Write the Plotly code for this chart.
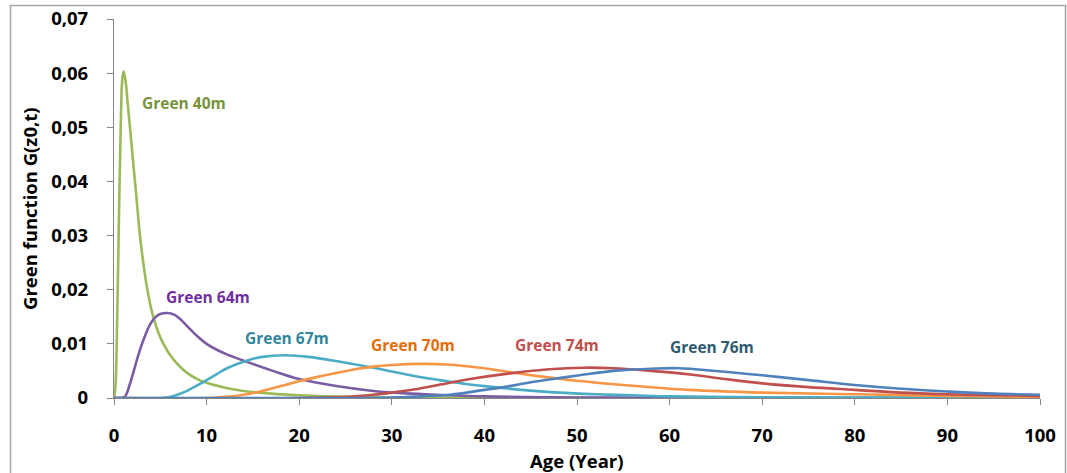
import plotly.graph_objects as go

# ---------------- data ----------------
g40_x = [0, 0.15, 0.35, 0.55, 0.75, 0.9, 1.05, 1.25, 1.5, 1.75, 2.0, 2.4, 2.8, 3.2, 3.6, 4.0, 4.5, 5.0, 5.5, 6.0, 7.0, 8, 9, 10, 12, 14, 17, 20, 25, 30, 40, 60, 100]
g40_y = [0, 0.002, 0.015, 0.035, 0.052, 0.059, 0.0603, 0.0585, 0.054, 0.0495, 0.0448, 0.0375, 0.0300, 0.0245, 0.0200, 0.0166, 0.0135, 0.0112, 0.0095, 0.0081, 0.0060, 0.0045, 0.0035, 0.0028, 0.0019, 0.0013, 0.0008, 0.0005, 0.0002, 0.0001, 0.00002, 0, 0]

g64_x = [0, 0.8, 1.2, 1.7, 2.3, 2.8, 3.4, 3.9, 4.4, 5.0, 5.8, 6.5, 7.2, 8.0, 9.0, 10, 11, 12, 14, 17, 20, 24, 28, 32, 36, 40, 50, 60, 100]
g64_y = [0, 0, 0.0003, 0.0025, 0.0060, 0.0089, 0.0117, 0.0136, 0.0148, 0.0155, 0.0157, 0.0154, 0.0145, 0.0131, 0.0114, 0.0100, 0.0090, 0.0082, 0.0069, 0.0051, 0.0035, 0.0022, 0.0013, 0.0008, 0.0005, 0.0003, 0.0001, 0.00003, 0]

g67_x = [0, 5, 6, 7, 8, 9.7, 11, 12.2, 14.3, 16, 18.5, 21, 24.4, 28, 30, 32, 34, 36, 38, 40, 44, 48, 52, 56, 60, 70, 80, 100]
g67_y = [0, 0, 0.0002, 0.0007, 0.0014, 0.0030, 0.0043, 0.0055, 0.0069, 0.0076, 0.0079, 0.0076, 0.0067, 0.0056, 0.0049, 0.0042, 0.0036, 0.0031, 0.0026, 0.0022, 0.0015, 0.0010, 0.0007, 0.0005, 0.0003, 0.00015, 0.00008, 0.00002]

g70_x = [0, 10, 12, 14, 16, 18, 20, 22, 24, 26, 28, 30, 33, 36, 40, 43, 46, 50, 55, 62, 70, 80, 90, 100]
g70_y = [0, 0, 0.0002, 0.0006, 0.0013, 0.0022, 0.0031, 0.0039, 0.0046, 0.0053, 0.0058, 0.0061, 0.0063, 0.0062, 0.0055, 0.0047, 0.0040, 0.0032, 0.0024, 0.0015, 0.0010, 0.0007, 0.0004, 0.0002]

g74_x = [0, 20, 25, 28, 30, 32.5, 35, 38.8, 43, 47, 50.7, 54, 58, 62, 66, 70, 75, 80, 85, 90, 95, 100]
g74_y = [0, 0, 0.0002, 0.0006, 0.0010, 0.0016, 0.0024, 0.0036, 0.0046, 0.0053, 0.0056, 0.0055, 0.0050, 0.0044, 0.0035, 0.0027, 0.0020, 0.0015, 0.0010, 0.0007, 0.0005, 0.0004]

g76_x = [0, 25, 30, 33, 36.3, 40, 42.4, 45, 47.8, 51, 54.6, 58, 61, 65, 70, 75, 80, 85, 90, 95, 100]
g76_y = [0, 0, 0.0001, 0.0003, 0.0006, 0.0015, 0.0021, 0.0029, 0.0036, 0.0044, 0.0051, 0.0054, 0.0055, 0.0050, 0.0042, 0.0033, 0.0024, 0.0017, 0.0012, 0.0008, 0.0006]

series_names = ["Green 40m", "Green 64m", "Green 67m", "Green 70m", "Green 74m", "Green 76m"]
series_x = [g40_x, g64_x, g67_x, g70_x, g74_x, g76_x]
series_y = [g40_y, g64_y, g67_y, g70_y, g74_y, g76_y]
line_colors = ["#9BBB59", "#7B5CA3", "#4BACC6", "#F79646", "#C0504D", "#4F81BD"]
label_colors = ["#77933C", "#7030A0", "#31859C", "#E46C0A", "#C0504D", "#2F5B70"]
label_x = [7.6, 10.2, 18.7, 32.3, 47.8, 64.6]
label_y = [0.0545, 0.0187, 0.0111, 0.0098, 0.0098, 0.0094]

x_ticks = [0, 10, 20, 30, 40, 50, 60, 70, 80, 90, 100]
y_ticks = [0, 0.01, 0.02, 0.03, 0.04, 0.05, 0.06, 0.07]
y_tick_text = ["0", "0,01", "0,02", "0,03", "0,04", "0,05", "0,06", "0,07"]

x_title = "Age (Year)"
y_title = "Green function G(z0,t)"

FONT = "Open Sans"
AXIS_GRAY = "#868686"

FW, FH = 1067, 473
# plot-area geometry in pixels
L, R, T, B = 114, 1040, 19, 398
PW, PH = R - L, B - T

fig = go.Figure()
for name, xs, ys, col in zip(series_names, series_x, series_y, line_colors):
    fig.add_trace(go.Scatter(x=xs, y=ys, mode="lines", name=name,
                             line=dict(color=col, width=2.6, shape="spline", smoothing=1.0),
                             showlegend=False, hoverinfo="skip"))

for name, lx, ly, col in zip(series_names, label_x, label_y, label_colors):
    fig.add_annotation(x=lx, y=ly, text="<b>%s</b>" % name, showarrow=False,
                       xanchor="center", yanchor="middle",
                       font=dict(family=FONT, size=15.5, color=col))

fig.add_annotation(xref="paper", yref="paper", x=(577 - L) / PW, y=(B - 460) / PH,
                   xanchor="center", yanchor="middle",
                   text="<b>%s</b>" % x_title, showarrow=False,
                   font=dict(family=FONT, size=18.5, color="black"))
fig.add_annotation(xref="paper", yref="paper", x=(29 - L) / PW, y=(B - 209) / PH,
                   xanchor="center", yanchor="middle",
                   text="<b>%s</b>" % y_title, showarrow=False, textangle=-90,
                   font=dict(family=FONT, size=18.5, color="black"))

# outer chart frame
fig.add_shape(type="rect", xref="paper", yref="paper",
              x0=(10.5 - L) / PW, x1=(1065.5 - L) / PW,
              y0=(B - 490) / PH, y1=(B - 5.5) / PH,
              line=dict(color="#A6A6A6", width=1.5), fillcolor="rgba(0,0,0,0)", layer="below")

fig.update_xaxes(range=[0, 100], tickvals=x_ticks, ticktext=[str(v) for v in x_ticks],
                 showline=True, linecolor=AXIS_GRAY, linewidth=1.2, automargin=False,
                 ticks="outside", ticklen=6, tickcolor=AXIS_GRAY, tickwidth=1.2,
                 showgrid=False, zeroline=False, ticklabelstandoff=15,
                 ticklabeloverflow="allow",
                 tickfont=dict(family=FONT, size=18.5, color="black", weight="bold"))
fig.update_yaxes(range=[0, 0.07], tickvals=y_ticks, ticktext=y_tick_text,
                 showline=True, linecolor=AXIS_GRAY, linewidth=1.2, automargin=False,
                 ticks="outside", ticklen=6, tickcolor=AXIS_GRAY, tickwidth=1.2,
                 showgrid=False, zeroline=False, ticklabelstandoff=15,
                 ticklabeloverflow="allow",
                 tickfont=dict(family=FONT, size=18.5, color="black", weight="bold"))

fig.update_layout(width=FW, height=FH, autosize=False,
                  margin=dict(l=L, r=FW - R, t=T, b=FH - B, autoexpand=False),
                  paper_bgcolor="white", plot_bgcolor="white",
                  font=dict(family=FONT))

# remove the page's default body margin so the figure sits at the window origin
fig.write_html("out.html", config={"displayModeBar": False},
               post_script="document.body.style.margin='0';document.body.style.overflow='hidden';")
